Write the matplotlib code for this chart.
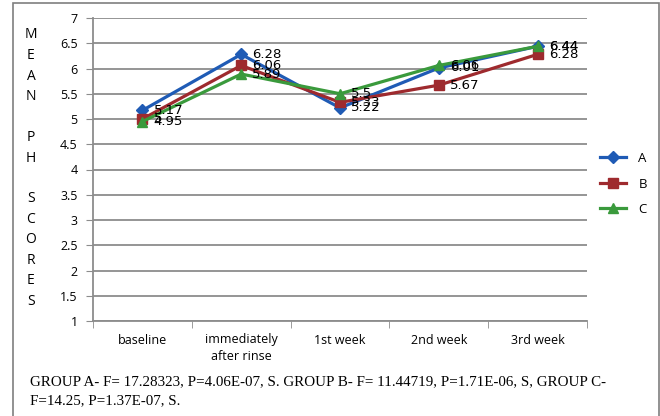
import matplotlib
matplotlib.use('Agg')
import matplotlib.pyplot as plt
from matplotlib.patches import Rectangle

categories = ['baseline', 'immediately\nafter rinse', '1st week', '2nd week', '3rd week']
group_a = [5.17, 6.28, 5.22, 6.01, 6.44]
group_b = [5.0, 6.06, 5.33, 5.67, 6.28]
group_c = [4.95, 5.89, 5.5, 6.06, 6.44]
y_ticks = [1, 1.5, 2, 2.5, 3, 3.5, 4, 4.5, 5, 5.5, 6, 6.5, 7]

SERIES = [
    ('A', group_a, '#1f5bb5', 'D', 6.5),
    ('B', group_b, '#9e2a2e', 's', 7.5),
    ('C', group_c, '#3a9a3c', '^', 7.5),
]
GRID = '#8c8c8c'

fig = plt.figure(figsize=(6.6, 4.16), dpi=100)
W, H = 660, 416
ax = fig.add_axes([93 / W, 1 - 321 / H, (587 - 93) / W, (321 - 18) / H])

x = list(range(len(categories)))
for name, vals, col, mk, ms in SERIES:
    ax.plot(x, vals, color=col, lw=2.3, marker=mk, markersize=ms,
            markerfacecolor=col, markeredgecolor=col, label=name, zorder=3)
    for xi, v in zip(x, vals):
        ax.annotate(f'{v:g}', (xi, v), xytext=(8, 0), textcoords='offset points',
                    ha='left', va='center', fontsize=9.5, color='black', zorder=4)

ax.set_xlim(-0.5, len(categories) - 0.5)
ax.set_ylim(1, 7)
ax.set_yticks(y_ticks)
ax.set_yticklabels([f'{t:g}' for t in y_ticks], fontsize=9, family='Open Sans')
ax.set_xticks(x)
ax.set_xticklabels(categories, fontsize=9, family='Open Sans', linespacing=1.35)
ax.set_xticks([i - 0.5 for i in range(len(categories) + 1)], minor=True)
ax.tick_params(axis='x', which='major', length=0, pad=9)
ax.tick_params(axis='x', which='minor', length=5, color=GRID, direction='out')
ax.tick_params(axis='y', length=5, color=GRID, pad=6)
ax.grid(axis='y', color=GRID, lw=1.3)
ax.set_axisbelow(True)
for side in ['top', 'right']:
    ax.spines[side].set_visible(False)
for side in ['left', 'bottom']:
    ax.spines[side].set_color(GRID)
    ax.spines[side].set_linewidth(1.3)

# vertical stacked axis title
letters = ['M', 'E', 'A', 'N', '', 'P', 'H', '', 'S', 'C', 'O', 'R', 'E', 'S']
for i, ch in enumerate(letters):
    fig.text(31 / W, 1 - (35 + i * 20.5) / H, ch, ha='center', va='center',
             fontsize=10, family='Open Sans')

ax.legend(loc='center left', bbox_to_anchor=(600 / W, 1 - 184 / H),
          bbox_transform=fig.transFigure, frameon=False, borderpad=0,
          borderaxespad=0, handlelength=2.0, labelspacing=0.95, handletextpad=0.9,
          prop={'family': 'Open Sans', 'size': 9.5})

fig.text(30 / W, 1 - 382 / H,
         'GROUP A- F= 17.28323, P=4.06E-07, S. GROUP B- F= 11.44719, P=1.71E-06, S, GROUP C-',
         ha='left', va='center', fontsize=10.8, family='Liberation Serif')
fig.text(30 / W, 1 - 401 / H, 'F=14.25, P=1.37E-07, S.',
         ha='left', va='center', fontsize=10.8, family='Liberation Serif')

# outer frame around the chart
fig.patches.append(Rectangle((13 / W, -0.05), (659 - 13) / W, 1.05 - 3 / H,
                             transform=fig.transFigure, fill=False,
                             edgecolor='#7f7f7f', lw=1.2))

fig.savefig('out.png', dpi=100)
